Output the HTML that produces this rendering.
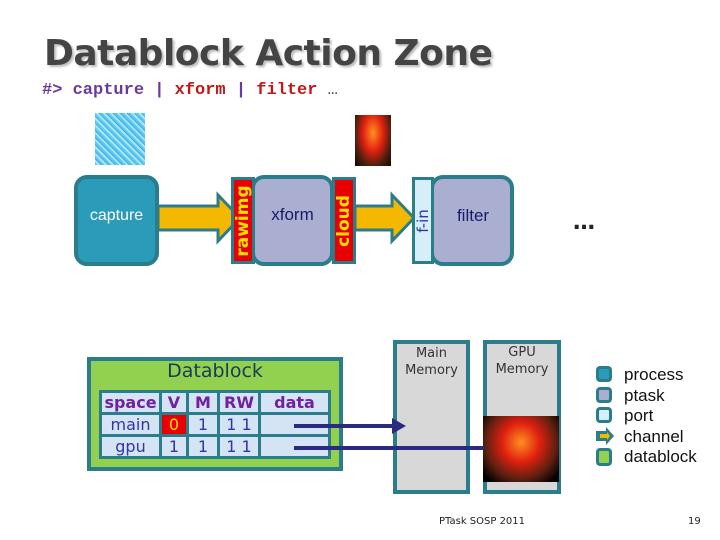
<!DOCTYPE html>
<html><head><style>
body{margin:0;width:720px;height:540px;background:#fff;position:relative;overflow:hidden;font-family:"DejaVu Sans","Liberation Sans",sans-serif}
.a{position:absolute}
.box{position:absolute;box-sizing:border-box;border:4px solid #2b7d8c;border-radius:13px}
.port{position:absolute;box-sizing:border-box;border:3px solid #2b7d8c}
.vt{position:absolute;left:50%;top:50%;transform:translate(-50%,-50%) rotate(-90deg);white-space:nowrap;font-weight:bold}
table{border-collapse:separate;border-spacing:3px;background:#2b7d8c}
td{background:#d4e4f4;color:#3333aa;font-size:16px;text-align:center;padding:0;height:19px;line-height:19px}
th{background:#d4e4f4;color:#7020a0;font-size:16px;font-weight:bold;padding:0;height:19px}
</style></head><body>
<div class="a" style="left:44px;top:33px;font-size:36px;font-weight:bold;color:#444;text-shadow:2px 2px 2px #bbb;letter-spacing:-0.5px">Datablock Action Zone</div>
<div class="a" style="left:42px;top:81px;font-family:'Liberation Mono',monospace;font-weight:bold;font-size:17px;color:#6a3a9a;white-space:pre">#&gt; capture | <span style="color:#c01818">xform</span> | <span style="color:#c01818">filter</span> <span style="color:#444;font-weight:normal">…</span></div>

<div class="a" style="left:95px;top:113px;width:50px;height:52px;background:repeating-linear-gradient(45deg,#5cc8f0 0 2px,#a8e4fa 2px 4px,#3ab0e8 4px 5px)"></div>
<div class="a" style="left:355px;top:115px;width:36px;height:51px;background:radial-gradient(ellipse at 50% 35%,#ff9020 0,#e02010 40%,#502010 70%,#100800 100%)"></div>

<div class="box" style="left:74px;top:175px;width:85px;height:91px;background:#2a9bb8"></div>
<div class="a" style="left:74px;top:207px;width:85px;text-align:center;color:#fff;font-size:16px;font-family:'Liberation Sans',sans-serif">capture</div>

<svg class="a" style="left:0;top:0" width="720" height="540">
<polygon points="158,206 218,206 218,195 240,218 218,241 218,230 158,230" fill="#f5b800" stroke="#2b7d8c" stroke-width="3"/>
<polygon points="355,206 392,206 392,195 414,218 392,241 392,230 355,230" fill="#f5b800" stroke="#2b7d8c" stroke-width="3"/>
</svg>

<div class="box" style="left:251px;top:175px;width:83px;height:91px;background:#aaaed0"></div>
<div class="a" style="left:251px;top:205px;width:83px;text-align:center;color:#1a1a6a;font-size:17px;font-family:'Liberation Sans',sans-serif">xform</div>
<div class="port" style="left:231px;top:177px;width:24px;height:87px;background:#e80000"><span class="vt" style="color:#ffe000;font-size:17px">rawimg</span></div>
<div class="port" style="left:332px;top:177px;width:24px;height:87px;background:#e80000"><span class="vt" style="color:#ffe000;font-size:17px">cloud</span></div>

<div class="box" style="left:430px;top:175px;width:84px;height:91px;background:#aaaed0"></div>
<div class="a" style="left:432px;top:206px;width:82px;text-align:center;color:#1a1a6a;font-size:17px;font-family:'Liberation Sans',sans-serif">filter</div>
<div class="port" style="left:412px;top:177px;width:22px;height:87px;background:#d6eef8"><span class="vt" style="color:#3333aa;font-size:15px;font-weight:normal">f-in</span></div>
<div class="a" style="left:573px;top:210px;font-size:22px;font-weight:bold;color:#222">…</div>

<div class="box" style="left:87px;top:357px;width:256px;height:114px;background:#92d050;border-radius:0"></div>
<div class="a" style="left:87px;top:360px;width:256px;text-align:center;font-size:19px;color:#1a3a5a">Datablock</div>
<table class="a" style="left:99px;top:390px;width:232px">
<tr><th style="width:57px">space</th><th style="width:24px">V</th><th style="width:28px">M</th><th style="width:38px">RW</th><th>data</th></tr>
<tr><td>main</td><td style="background:#e80000;color:#ffe000">0</td><td>1</td><td>1 1</td><td></td></tr>
<tr><td>gpu</td><td>1</td><td>1</td><td>1 1</td><td></td></tr>
</table>

<div class="box" style="left:393px;top:340px;width:77px;height:154px;background:#d8d8d8;border-radius:0"></div>
<div class="a" style="left:393px;top:345px;width:77px;text-align:center;font-size:13px;color:#333;line-height:17px">Main<br>Memory</div>
<div class="box" style="left:483px;top:340px;width:78px;height:154px;background:#d8d8d8;border-radius:0"></div>
<div class="a" style="left:483px;top:344px;width:78px;text-align:center;font-size:13px;color:#333;line-height:17px">GPU<br>Memory</div>
<div class="a" style="left:483px;top:416px;width:76px;height:66px;background:radial-gradient(ellipse at 50% 40%,#ff9020 0,#e02010 35%,#602010 65%,#000 90%)"></div>

<svg class="a" style="left:0;top:0" width="720" height="540">
<line x1="294" y1="426" x2="398" y2="426" stroke="#2a2a80" stroke-width="4"/>
<polygon points="392,418 406,426 392,434" fill="#2a2a80"/>
<line x1="294" y1="448" x2="484" y2="448" stroke="#2a2a80" stroke-width="4"/>
</svg>

<div class="a" style="left:596px;top:366px;width:16px;height:16px;background:#2a9bb8;border:3px solid #2b7d8c;border-radius:4px;box-sizing:border-box"></div>
<div class="a" style="left:596px;top:387px;width:16px;height:16px;background:#aaaed0;border:3px solid #2b7d8c;border-radius:4px;box-sizing:border-box"></div>
<div class="a" style="left:596px;top:407px;width:16px;height:16px;background:#d6eef8;border:3px solid #2b7d8c;border-radius:4px;box-sizing:border-box"></div>
<svg class="a" style="left:595px;top:427px" width="20" height="18"><polygon points="1,4 11,4 11,0 19,9 11,18 11,14 1,14" fill="#2b7d8c"/><polygon points="5,7 12,7 12,5 15,9 12,13 12,11 5,11" fill="#f5b800"/></svg>
<div class="a" style="left:596px;top:448px;width:16px;height:18px;background:#92d050;border:3px solid #2b7d8c;border-radius:4px;box-sizing:border-box"></div>
<div class="a" style="left:624px;top:365px;font-family:'Liberation Sans',sans-serif;font-size:17px;line-height:20.5px;color:#111">process<br>ptask<br>port<br>channel<br>datablock</div>

<div class="a" style="left:439px;top:516px;font-size:10px;color:#222">PTask SOSP 2011</div>
<div class="a" style="left:688px;top:516px;font-size:10px;color:#222">19</div>
</body></html>
